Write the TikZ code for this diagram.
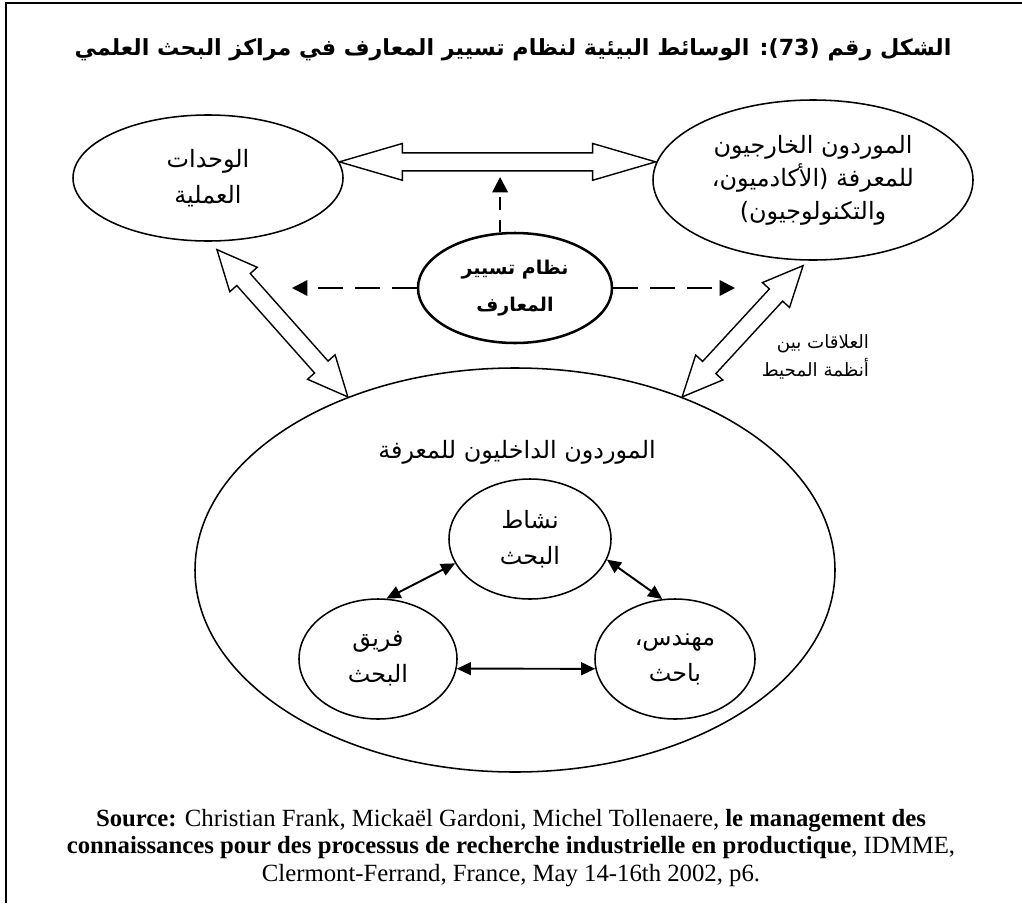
\documentclass[tikz,border=0pt]{standalone}
\usepackage{fontspec}
\setmainfont{Liberation Serif}
\newfontfamily\arabicfont[Script=Arabic]{DejaVu Sans}
\TeXXeTstate=1
\usetikzlibrary{shapes.geometric,arrows.meta,calc}

\newcommand{\arline}[1]{\beginR #1\endR}
\newcommand{\fathead}{0.46cm}
\newcommand{\fatshaft}{0.225cm}
% hollow double arrow between two named points, #1 = head length
\newcommand{\fatarrow}[3][1cm]{%
  \draw[fat] (#2)
    -- ($(#2)!#1!(#3)!\fathead!90:(#3)$)
    -- ($(#2)!#1!(#3)!\fatshaft!90:(#3)$)
    -- ($(#3)!#1!(#2)!\fatshaft!-90:(#2)$)
    -- ($(#3)!#1!(#2)!\fathead!-90:(#2)$)
    -- (#3)
    -- ($(#3)!#1!(#2)!\fathead!90:(#2)$)
    -- ($(#3)!#1!(#2)!\fatshaft!90:(#2)$)
    -- ($(#2)!#1!(#3)!\fatshaft!-90:(#3)$)
    -- ($(#2)!#1!(#3)!\fathead!-90:(#3)$)
    -- cycle;}

\tikzset{
  bubble/.style={draw, ellipse, line width=1.1pt, inner sep=0pt, align=center,
    font=\arabicfont\fontsize{17}{25.5}\selectfont},
  fat/.style={line width=1pt, fill=white, line join=miter},
  dasharrow/.style={line width=1.8pt, dash pattern=on 17.8pt off 8.5pt,
    -{Triangle[length=11pt,width=11pt]}},
  link/.style={line width=1.4pt,
    {Triangle[length=10pt,width=9pt]}-{Triangle[length=10pt,width=9pt]}},
}

\begin{document}
\begin{tikzpicture}
    \useasboundingbox (0,0) rectangle (25.55,-22.575);
    % frame
    \draw[line width=1.3pt] (0.15,-22.575) -- (0.15,-0.075) -- (25.55,-0.075);

    % title
    \node[font=\arabicfont\bfseries\fontsize{15.8}{18}\selectfont] (title) at (12.825,-1.25)
        {\arline{الشكل رقم (73): الوسائط البيئية لنظام تسيير المعارف في مراكز البحث العلمي}};

    % outer partners
    \node[bubble, minimum width=6.75cm, minimum height=3.15cm] (units) at (5.2,-4.45)
        {\arline{الوحدات}\\\arline{العملية}};
    \node[bubble, minimum width=8cm, minimum height=4cm,
        font=\arabicfont\fontsize{17}{23.5}\selectfont] (suppliers) at (20.325,-4.5)
        {\arline{الموردون الخارجيون}\\\arline{للمعرفة (الأكادميون،}\\\arline{والتكنولوجيون)}};

    % knowledge management system
    \node[bubble, line width=1.8pt, minimum width=4.85cm, minimum height=2.75cm,
        font=\arabicfont\bfseries\fontsize{13.5}{26}\selectfont] (kms) at (12.875,-7.2)
        {\arline{نظام تسيير}\\\arline{المعارف}};

    % internal suppliers
    \node[bubble, minimum width=16cm, minimum height=10.1cm] (inside) at (12.875,-14.25) {};
    \node[font=\arabicfont\fontsize{17}{25}\selectfont] (insidetitle) at (12.925,-11.3)
        {\arline{الموردون الداخليون للمعرفة}};
    \node[bubble, minimum width=4.05cm, minimum height=3cm] (activity) at (13.25,-13.475)
        {\arline{نشاط}\\\arline{البحث}};
    \node[bubble, minimum width=3.95cm, minimum height=3cm] (team) at (9.45,-16.475)
        {\arline{فريق}\\\arline{البحث}};
    \node[bubble, minimum width=4cm, minimum height=3cm] (engineer) at (16.875,-16.475)
        {\arline{مهندس،}\\\arline{باحث}};

    \draw[link] (team.82) -- (activity.198);
    \draw[link] (activity.345) -- (engineer.102);
    \draw[link] (team.-7) -- (engineer.187);

    % hollow arrows
    \coordinate (hL) at (units.7);
    \coordinate (hR) at (suppliers.174 |- hL);
    \coordinate (dL1) at ([yshift=-0.2cm]units.-82);
    \coordinate (dL2) at (inside.134);
    \coordinate (dR1) at ([yshift=-0.125cm]suppliers.-97);
    \coordinate (dR2) at (inside.46);
    \fatarrow[1.575cm]{hL}{hR}
    \fatarrow{dL1}{dL2}
    \fatarrow{dR1}{dR2}

    \node[font=\arabicfont\fontsize{13}{20}\selectfont, align=right, anchor=east] (relations)
        at (21.85,-8.925) {\arline{العلاقات بين}\\\arline{أنظمة المحيط}};

    % dashed links from the system
    \coordinate (upT) at (12.5,-4.425);
    \coordinate (leftT) at (7.3,-7.25);
    \coordinate (rightT) at (18.375,-7.25);
    \draw[dasharrow, dash pattern=on 9pt off 7pt] (kms.105) -- (kms.105 |- upT);
    \draw[dasharrow] (kms.west) -- (kms.west -| leftT);
    \draw[dasharrow] (kms.east) -- (kms.east -| rightT);

    % source
    \node[font=\fontsize{17.6}{19.5}\selectfont, align=center] (source) at (12.775,-21.2)
        {\textbf{Source:} Christian Frank, Mickaël Gardoni, Michel Tollenaere, \textbf{le management des}\\
         \textbf{connaissances pour des processus de recherche industrielle en productique}, IDMME,\\
         Clermont-Ferrand, France, May 14-16th 2002, p6.};
\end{tikzpicture}
\end{document}
